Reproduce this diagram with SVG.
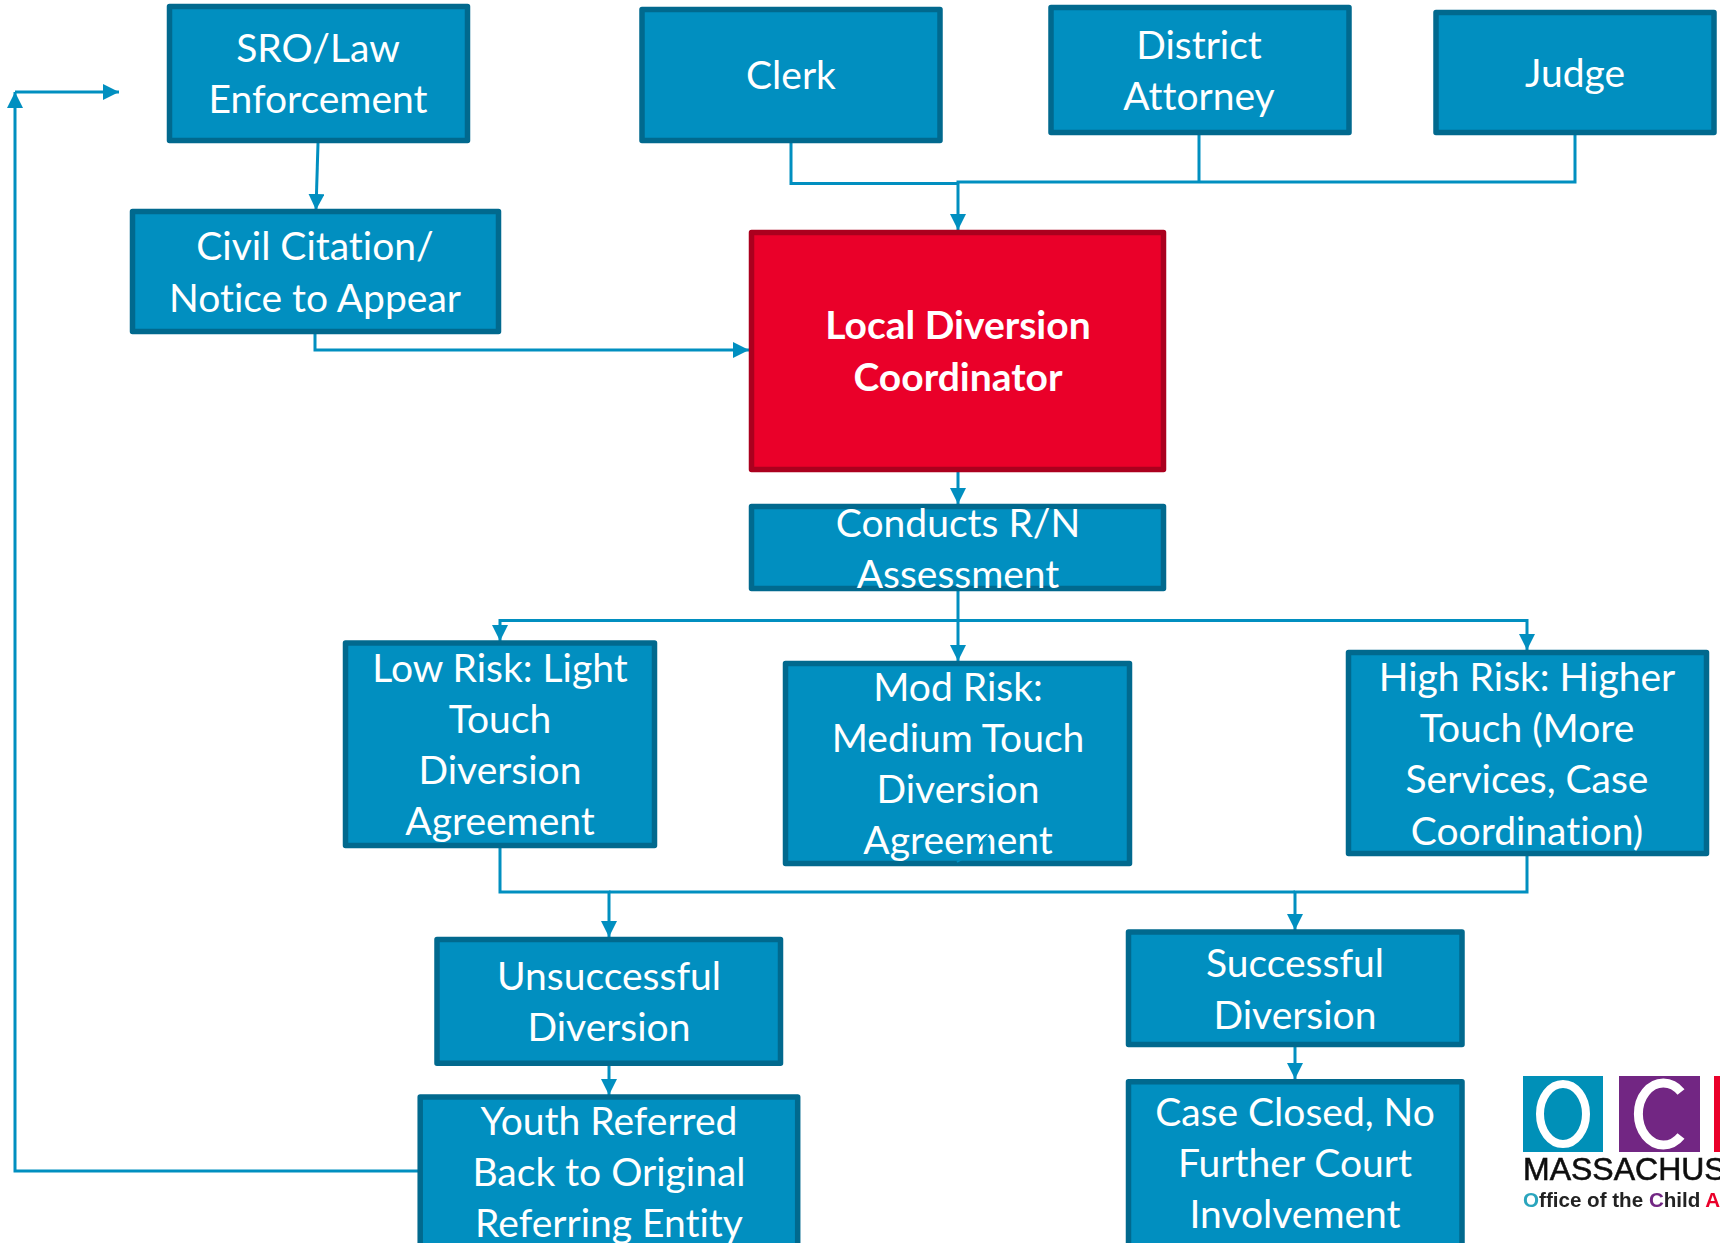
<svg xmlns="http://www.w3.org/2000/svg" width="1720" height="1243" viewBox="0 0 1720 1243">
<style>
.b{fill:#018fc0;stroke:#01698e;stroke-width:5.5;stroke-linejoin:round}
.r{fill:#ea0029;stroke:#ab001e;stroke-width:5.5;stroke-linejoin:round}
text{font-family:Lato,"Open Sans",sans-serif;font-variant-ligatures:none}
.t{fill:#fff;font-size:39px;text-anchor:middle}
.tb{fill:#fff;font-size:39px;font-weight:700;text-anchor:middle}
.c{fill:none;stroke:#018fc0;stroke-width:3}
.n{fill:none;stroke:#018fc0;stroke-width:2}
.m1{font-family:"Liberation Sans",sans-serif;font-size:32px;fill:#111;stroke:#111;stroke-width:.6}
.m2{font-family:"Liberation Sans",sans-serif;font-size:20.6px;font-weight:700;fill:#222}
</style>
<defs>
<marker id="a" markerUnits="userSpaceOnUse" markerWidth="16" markerHeight="16" refX="16" refY="8" orient="auto"><path d="M0 0L16 8L0 16Z" fill="#018fc0"/></marker>
<filter id="soft" x="-5%" y="-5%" width="110%" height="110%"><feGaussianBlur stdDeviation="0.55"/></filter>
</defs>
<rect width="1720" height="1243" fill="#fff"/>
<g id="connectors">
<path class="c" d="M318 143L316 210" marker-end="url(#a)"/>
<path class="c" d="M315 334V350H749" marker-end="url(#a)"/>
<path class="c" d="M791 143V183.500H958"/>
<path class="c" d="M1575 135V182H958V230" marker-end="url(#a)"/>
<path class="c" d="M1199 135V182"/>
<path class="c" d="M958 472V504" marker-end="url(#a)"/>
<path class="c" d="M958 591V661" marker-end="url(#a)"/>
<path class="c" d="M958 620.500H500V641" marker-end="url(#a)"/>
<path class="c" d="M958 620.500H1527V650" marker-end="url(#a)"/>
<path class="c" d="M500 848V892H609V937" marker-end="url(#a)"/>
<path class="c" d="M1527 856V892H1295V930" marker-end="url(#a)"/>
<path class="c" d="M609 892H1295"/>
<path class="c" d="M609 1065V1095" marker-end="url(#a)"/>
<path class="c" d="M1295 1047V1079" marker-end="url(#a)"/>
<path class="c" d="M418 1171H15V92" marker-end="url(#a)"/>
<path class="c" d="M15 92H119" marker-end="url(#a)"/>
</g>
<g id="sro"><rect class="b" x="169.500" y="6.500" width="298" height="134"/><text class="t" x="318" y="62">SRO/Law</text><text class="t" x="318" y="113">Enforcement</text></g>
<g id="civil"><rect class="b" x="132.500" y="211.500" width="366" height="120"/><text class="t" x="315" y="260">Civil Citation/</text><text class="t" x="315" y="312">Notice to Appear</text></g>
<g id="clerk"><rect class="b" x="642" y="9.500" width="298" height="131"/><text class="t" x="791" y="89">Clerk</text></g>
<g id="da"><rect class="b" x="1051" y="7.500" width="298" height="125"/><text class="t" x="1199" y="59">District</text><text class="t" x="1199" y="110">Attorney</text></g>
<g id="judge"><rect class="b" x="1436" y="12.500" width="278" height="120"/><text class="t" x="1575" y="87">Judge</text></g>
<g id="coordinator"><rect class="r" x="751.500" y="232.500" width="412" height="237"/><text class="tb" x="958" y="339">Local Diversion</text><text class="tb" x="958" y="391">Coordinator</text></g>
<g id="assessment"><rect class="b" x="751.500" y="506.500" width="412" height="82"/><text class="t" x="958" y="537">Conducts R/N</text><text class="t" x="958" y="588">Assessment</text></g>
<g id="low"><rect class="b" x="345.500" y="643" width="309" height="202.500"/><text class="t" x="500" y="682">Low Risk: Light</text><text class="t" x="500" y="733">Touch</text><text class="t" x="500" y="784">Diversion</text><text class="t" x="500" y="835">Agreement</text></g>
<g id="mod"><rect class="b" x="785.500" y="663.500" width="344" height="200"/><text class="t" x="958" y="701">Mod Risk:</text><text class="t" x="958" y="752">Medium Touch</text><text class="t" x="958" y="803">Diversion</text><text class="t" x="958" y="854">Agreement</text></g>
<g id="high"><rect class="b" x="1348.500" y="652.500" width="358" height="201"/><text class="t" x="1527" y="691">High Risk: Higher</text><text class="t" x="1527" y="742">Touch (More</text><text class="t" x="1527" y="793">Services, Case</text><text class="t" x="1527" y="845">Coordination)</text></g>
<g id="unsuccessful"><rect class="b" x="437" y="939.500" width="343.500" height="123.750"/><text class="t" x="609" y="990">Unsuccessful</text><text class="t" x="609" y="1041">Diversion</text></g>
<g id="successful"><rect class="b" x="1128.500" y="932" width="333.500" height="112.500"/><text class="t" x="1295" y="977">Successful</text><text class="t" x="1295" y="1029">Diversion</text></g>
<g id="youth"><rect class="b" x="420.200" y="1097" width="377.500" height="160"/><text class="t" x="609" y="1135">Youth Referred</text><text class="t" x="609" y="1186">Back to Original</text><text class="t" x="609" y="1237">Referring Entity</text></g>
<g id="closed"><rect class="b" x="1128.500" y="1081.700" width="333.500" height="175"/><text class="t" x="1295" y="1126">Case Closed, No</text><text class="t" x="1295" y="1177">Further Court</text><text class="t" x="1295" y="1228">Involvement</text></g>
<path class="n" d="M957 862L962 859M977 852Q980 842 989 834"/>
<g id="logo" filter="url(#soft)">
<rect x="1523" y="1076" width="80" height="76" fill="#0290b8"/><rect x="1619" y="1076" width="81" height="76" fill="#722583"/><rect x="1714" y="1076" width="6" height="76" fill="#ea0029"/>
<ellipse cx="1563" cy="1114" rx="23" ry="30" fill="none" stroke="#fff" stroke-width="8"/>
<path d="M1681 1092A25 31 0 1 0 1681 1136" fill="none" stroke="#fff" stroke-width="9"/>
<text class="m1" x="1523" y="1180">MASSACHUS</text>
<text class="m2" x="1523" y="1207"><tspan fill="#2aa5bd">O</tspan>ffice of the <tspan fill="#722583">C</tspan>hild <tspan fill="#ea0029">A</tspan></text>
</g>
</svg>
